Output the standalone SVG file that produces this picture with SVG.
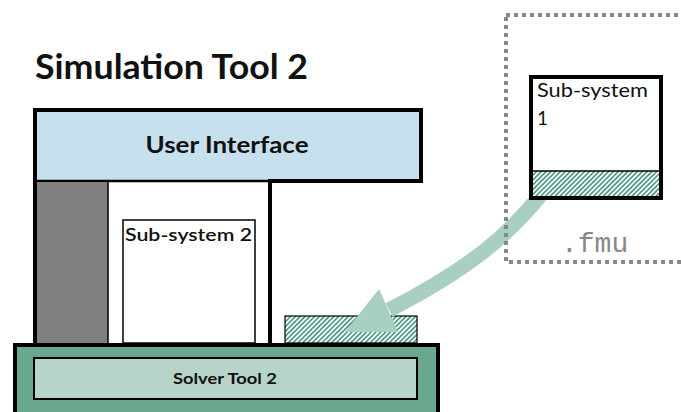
<svg xmlns="http://www.w3.org/2000/svg" width="681" height="412" viewBox="0 0 681 412">
<style>
text{font-family:Lato,"Open Sans","DejaVu Sans",sans-serif;fill:#111}
.b{font-weight:bold}
.thick{stroke:#000;stroke-width:4;fill:none}
.thin{stroke:#000;stroke-width:1.5}
</style>
<defs>
<pattern id="hatch" patternUnits="userSpaceOnUse" width="3.4" height="3.4" patternTransform="rotate(45)">
<rect width="3.4" height="3.4" fill="#fff"/>
<rect width="1.7" height="3.4" fill="#4f9a89"/>
</pattern>
</defs>
<rect width="681" height="412" fill="#fff"/>
<text class="b" x="35" y="79" font-size="35" textLength="273" lengthAdjust="spacingAndGlyphs">Simulation Tool 2</text>
<g id="solver-tool">
<rect x="15" y="345" width="423" height="72" fill="#6aa890" stroke="#000" stroke-width="4"/>
<rect x="34" y="358" width="383" height="41" fill="#b6d4c8" stroke="#000" stroke-width="2"/>
<text class="b" x="225" y="384" font-size="15" text-anchor="middle" textLength="104" lengthAdjust="spacingAndGlyphs">Solver Tool 2</text>
</g>
<g id="simulation-tool">
<rect x="35" y="110" width="386" height="71" fill="#c6e0ee"/>
<line x1="35" y1="181" x2="270" y2="181" stroke="#000" stroke-width="2.5"/>
<rect x="35" y="182" width="73" height="161" fill="#808080"/>
<line x1="108" y1="182" x2="108" y2="343" stroke="#000" stroke-width="1.5"/>
<path class="thick" d="M35,345 V110 H421 V181 H270 V345"/>
<text class="b" x="227" y="153" font-size="22" text-anchor="middle" textLength="163" lengthAdjust="spacingAndGlyphs">User Interface</text>
</g>
<g id="sub-system-2">
<rect x="123" y="220" width="132" height="123" fill="#fff" class="thin"/>
<text x="125" y="241" font-size="18" font-weight="600" textLength="127" lengthAdjust="spacingAndGlyphs">Sub-system 2</text>
</g>
<g id="fmu-slot">
<rect x="285" y="316" width="132" height="27" fill="url(#hatch)" stroke="#000" stroke-width="1.2"/>
</g>
<g id="connectors">
<path d="M540,196 C510,232 475,266 389,310" fill="none" stroke="#a8cfc0" stroke-width="15"/>
<polygon points="345,332 379,289 398,332" fill="#a8cfc0"/>
</g>
<g id="fmu">
<rect x="506" y="15" width="200" height="247" fill="none" stroke="#888" stroke-width="4" stroke-dasharray="4 4"/>
<text x="561" y="252" font-size="28" style="font-family:'Liberation Mono','Courier New',monospace;fill:#888">.fmu</text>
</g>
<g id="sub-system-1">
<rect x="531" y="77" width="130" height="121" fill="#fff"/>
<rect x="531" y="171" width="130" height="27" fill="url(#hatch)"/>
<line x1="531" y1="171" x2="661" y2="171" stroke="#000" stroke-width="1.5"/>
<rect x="531" y="77" width="130" height="121" class="thick"/>
<text x="537" y="97" font-size="19" textLength="111" lengthAdjust="spacingAndGlyphs">Sub-system</text>
<text x="537" y="125" font-size="19">1</text>
</g>
</svg>
